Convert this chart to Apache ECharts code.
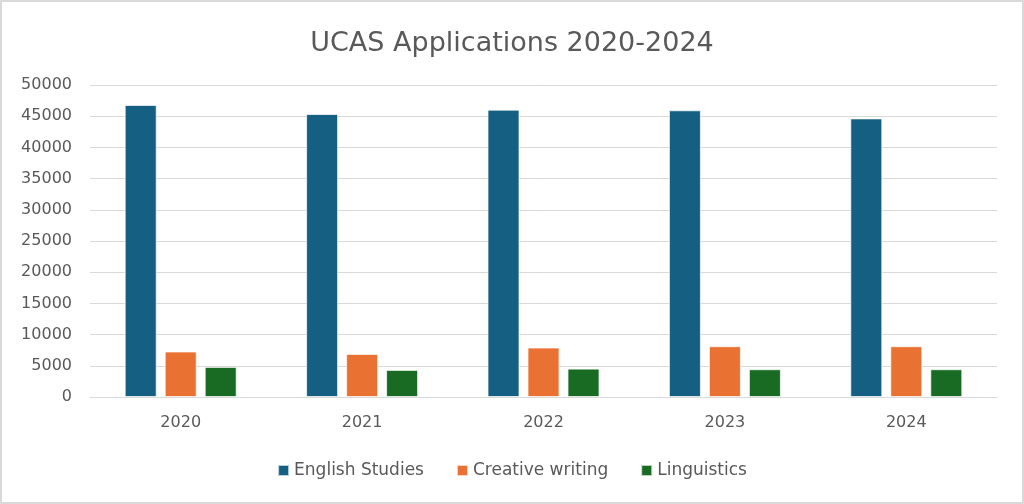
<!DOCTYPE html>
<html>
<head>
<meta charset="utf-8">
<title>UCAS Applications 2020-2024</title>
<script src="https://cdn.jsdelivr.net/npm/echarts@6/dist/echarts.min.js"></script>
<style>
    html, body { margin: 0; padding: 0; background: #ffffff; }
    #chart {
        width: 1024px;
        height: 504px;
        box-sizing: border-box;
        border: 2px solid #d9d9d9;
    }
</style>
</head>
<body>
<div id="chart"></div>
<script>
const years = ['2020', '2021', '2022', '2023', '2024'];
const englishStudies = [46800, 45350, 46050, 45950, 44650];
const creativeWriting = [7290, 6900, 7930, 8140, 8140];
const linguistics = [4820, 4340, 4550, 4450, 4450];

const fontFamily = '"DejaVu Sans", "Noto Sans", sans-serif';
const textColor = '#595959';

function barSeries(name, data, color) {
    return {
        name: name,
        type: 'bar',
        data: data,
        barWidth: 32,
        barGap: '25%',
        itemStyle: {
            color: color,
            borderColor: 'rgba(255,255,255,0.7)',
            borderWidth: 1
        }
    };
}

const chart = echarts.init(document.getElementById('chart'));
chart.setOption({
    backgroundColor: '#ffffff',
    animation: false,
    title: {
        text: 'UCAS Applications 2020-2024',
        left: 'center',
        top: 23,
        textStyle: {
            color: textColor,
            fontFamily: fontFamily,
            fontSize: 27,
            fontWeight: 'normal'
        }
    },
    legend: {
        top: 455,
        left: 'center',
        itemWidth: 11,
        itemHeight: 11,
        itemGap: 32,
        icon: 'rect',
        textStyle: { color: textColor, fontFamily: fontFamily, fontSize: 17 },
        data: ['English Studies', 'Creative writing', 'Linguistics']
    },
    grid: { left: 88, right: 25, top: 83, bottom: 105 },
    xAxis: {
        type: 'category',
        data: years,
        axisTick: { show: false },
        axisLine: { lineStyle: { color: '#d9d9d9', width: 1 } },
        axisLabel: {
            color: textColor,
            fontFamily: fontFamily,
            fontSize: 16,
            margin: 18
        }
    },
    yAxis: {
        type: 'value',
        min: 0,
        max: 50000,
        interval: 5000,
        axisLine: { show: false },
        axisTick: { show: false },
        splitLine: { lineStyle: { color: '#d9d9d9', width: 1 } },
        axisLabel: {
            color: textColor,
            fontFamily: fontFamily,
            fontSize: 16,
            margin: 18,
            formatter: value => String(value)
        }
    },
    series: [
        barSeries('English Studies', englishStudies, '#156082'),
        barSeries('Creative writing', creativeWriting, '#e97132'),
        barSeries('Linguistics', linguistics, '#196b24')
    ]
});
window.addEventListener('resize', () => chart.resize());
</script>
</body>
</html>
